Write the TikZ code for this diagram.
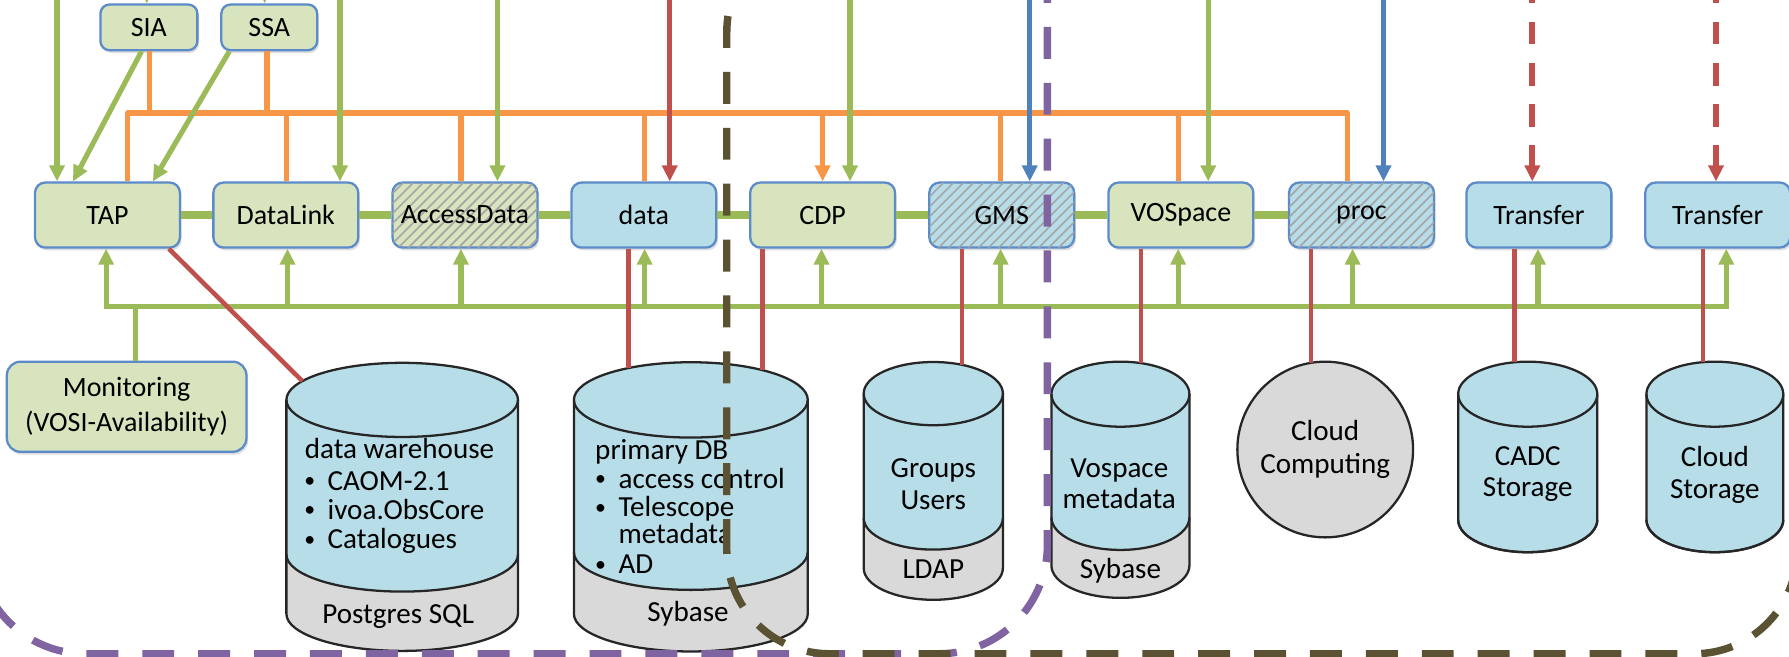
\documentclass[tikz,border=0pt]{standalone}
\usepackage{fontspec}
\setmainfont{Carlito}
\usetikzlibrary{arrows.meta,patterns.meta,shadows,calc}
\definecolor{gfill}{HTML}{D7E4BD}
\definecolor{bfill}{HTML}{B7DEE8}
\definecolor{glc}{HTML}{9BBB59}
\definecolor{olc}{HTML}{F79646}
\definecolor{rlc}{HTML}{C0504D}
\definecolor{blc}{HTML}{4F81BD}
\definecolor{boxedge}{HTML}{5B8BC9}
\definecolor{purp}{HTML}{8064A2}
\definecolor{oliv}{HTML}{5A5232}
\definecolor{dbgray}{HTML}{D9D9D9}
\definecolor{hatchc}{HTML}{A6A6A6}
\definecolor{dbedge}{HTML}{262626}
\newcommand\blt{\makebox[22pt][l]{\hspace{1.5pt}\raisebox{2.3pt}{\scalebox{0.75}{•}}}}
% cx, rx, top-centre y, ry, boundary-centre y, bottom-centre y, fill colour
\newcommand\dbcyl[7]{%
  \fill[dbgray] (#1-#2,#3) -- (#1-#2,#6) arc[start angle=180,end angle=360,x radius=#2pt,y radius=#4pt] -- (#1+#2,#3) -- cycle;
  \fill[#7] (#1-#2,#3) -- (#1-#2,#5) arc[start angle=180,end angle=360,x radius=#2pt,y radius=#4pt] -- (#1+#2,#3) arc[start angle=0,end angle=180,x radius=#2pt,y radius=#4pt] -- cycle;
  \draw[dbline] (#1,#3) ellipse[x radius=#2pt,y radius=#4pt];
  \draw[dbline] (#1-#2,#3) -- (#1-#2,#6) arc[start angle=180,end angle=360,x radius=#2pt,y radius=#4pt] -- (#1+#2,#3);
  \draw[dbline] (#1-#2,#5) arc[start angle=180,end angle=360,x radius=#2pt,y radius=#4pt];
}
\begin{document}
\begin{tikzpicture}[x=1pt,y=1pt,
  svc/.style={draw=boxedge, line width=2pt, rounded corners=9pt, minimum width=127pt, minimum height=57pt, inner sep=0pt, text=black,
    font=\fontsize{24.5}{29}\selectfont, drop shadow={opacity=0.25,shadow xshift=1.5pt,shadow yshift=-2.5pt}},
  gsvc/.style={svc, fill=gfill},
  bsvc/.style={svc, fill=bfill},
  small/.style={minimum width=85pt, minimum height=40pt, rounded corners=8pt},
  hatched/.style={postaction={pattern={Lines[angle=45,distance=6.2pt,line width=1.5pt]}, pattern color=hatchc}},
  dbline/.style={draw=dbedge, line width=2pt},
  dbtext/.style={font=\fontsize{25.5}{28}\selectfont, inner sep=0pt, text height=18pt, text depth=6pt},
  dbml/.style={font=\fontsize{25.5}{28}\selectfont, inner sep=0pt, align=center},
  tip/.style={-{Triangle[length=14pt,width=13pt]}},
  oline/.style={draw=olc, line width=4.5pt},
  oarrow/.style={oline, tip},
  gline/.style={draw=glc, line width=4.5pt},
  garrow/.style={gline, tip},
  gbus/.style={gline, line cap=rect},
  gchain/.style={draw=glc, line width=7.5pt},
  rline/.style={draw=rlc, line width=4pt},
  rarrow/.style={draw=rlc, line width=4.5pt, tip},
  rdarrow/.style={rarrow, line width=5pt, dash pattern=on 20pt off 16pt},
  barrow/.style={draw=blc, line width=4.5pt, tip},
  purpd/.style={draw=purp, line width=6.5pt, dash pattern=on 28pt off 21pt, rounded corners=95pt},
  olivd/.style={draw=oliv, line width=6.5pt, dash pattern=on 28pt off 21pt, rounded corners=90pt}
]
\clip (0,0) rectangle (1568,575);
\fill[white] (0,0) rectangle (1568,575);

\coordinate (TOP) at (0,592);
\coordinate (OBUS) at (0,476);
\coordinate (GBUS) at (0,306);

% ---------- service boxes ----------
\node[gsvc] (TAP) at (94.2,386.5) {TAP};
\node[gsvc] (DL) at (250.5,386.5) {DataLink};
\node[gsvc,hatched] (AD) at (407.5,386.5) {AccessData};
\node[bsvc] (DATA) at (564.3,386.5) {data};
\node[gsvc] (CDP) at (721,386.5) {CDP};
\node[bsvc,hatched] (GMS) at (878,386.5) {GMS};
\node[gsvc] (VOS) at (1035,386.5) {VOSpace};
\node[bsvc,hatched] (PROC) at (1193.3,386.5) {proc};
\node[bsvc] (TR1) at (1348.8,386.5) {Transfer};
\node[bsvc] (TR2) at (1505.5,386.5) {Transfer};
\node[gsvc,small] (SIA) at (130.5,551) {SIA};
\node[gsvc,small,minimum width=84pt] (SSA) at (236,551) {SSA};
\node[gsvc, minimum width=210pt, minimum height=79pt, rounded corners=12pt, align=center,
      font=\fontsize{24.5}{30}\selectfont] (MON) at (111,218.5) {Monitoring\\(VOSI-Availability)};

% ---------- databases ----------
\dbcyl{352.5}{101.5}{224.5}{32.5}{89}{37}{bfill}
\dbcyl{605.5}{102.5}{224.5}{33}{91}{37}{bfill}
\dbcyl{818}{61}{230}{27.7}{121}{77}{bfill}
\dbcyl{982}{60.5}{229.5}{28.5}{121.5}{79.5}{bfill}
\dbcyl{1339}{61}{229.5}{28.5}{119.5}{119.5}{bfill}
\dbcyl{1503}{60}{229.5}{28.5}{119.5}{119.5}{bfill}
\node[circle, draw=dbedge, line width=2pt, fill=dbgray, minimum size=154pt, inner sep=0pt, align=center,
      font=\fontsize{25.5}{29}\selectfont] (CLOUD) at (1161.5,181) {Cloud\\Computing};

\coordinate (DWa) at (265,241);
\coordinate (PDa) at (551,252.4);
\coordinate (PDb) at (668.5,250.5);
\coordinate (LDa) at (843,255.3);
\coordinate (VSa) at (1000,256.7);
\coordinate (CCa) at (1149,257);
\coordinate (CSa) at (1327.6,257.5);
\coordinate (CLa) at (1492.6,257.6);

% database texts
\node[dbtext,anchor=west] (DW0) at (267,179) {data warehouse};
\node[dbtext,anchor=west] (DW1) at (265,151) {\blt CAOM-2.1};
\node[dbtext,anchor=west] (DW2) at (265,126) {\blt ivoa.ObsCore};
\node[dbtext,anchor=west] (DW3) at (265,100) {\blt Catalogues};
\node[dbtext] (DW4) at (349,34.5) {Postgres SQL};
\node[dbtext,anchor=west] (PD0) at (521.5,178) {primary DB};
\node[dbtext,anchor=west] (PD1) at (520,153) {\blt access control};
\node[dbtext,anchor=west] (PD2) at (520,128) {\blt Telescope};
\node[dbtext,anchor=west] (PD3) at (542,105) {metadata};
\node[dbtext,anchor=west] (PD4) at (520,78) {\blt AD};
\node[dbtext] (PD5) at (603,36) {Sybase};
\node[dbml] (LD0) at (818,151) {Groups\\Users};
\node[dbtext] (LD1) at (818,74) {LDAP};
\node[dbml] (VS0) at (981,151) {Vospace\\metadata};
\node[dbtext] (VS1) at (982,74) {Sybase};
\node[dbml] (CS0) at (1339,159.5) {CADC\\Storage};
\node[dbml] (CL0) at (1503,159) {Cloud\\Storage};

% ---------- chain between services ----------
\draw[gchain] (TAP.east) -- (DL.west);
\draw[gchain] (DL.east) -- (AD.west);
\draw[gchain] (AD.east) -- (DATA.west);
\draw[gchain] (DATA.east) -- (CDP.west);
\draw[gchain] (CDP.east) -- (GMS.west);
\draw[gchain] (GMS.east) -- (VOS.west);
\draw[gchain] (VOS.east) -- (PROC.west);

% ---------- orange bus ----------
\draw[oline, line join=round] (112,0 |- TAP.north) |- (1181,0 |- OBUS) -- (1181,0 |- PROC.north);
\draw[oline] (131,0 |- SIA.south) -- (131,0 |- OBUS);
\draw[oline] (234,0 |- SSA.south) -- (234,0 |- OBUS);
\draw[oline] (251,0 |- OBUS) -- (251,0 |- DL.north);
\draw[oline] (404,0 |- OBUS) -- (404,0 |- AD.north);
\draw[oline] (565,0 |- OBUS) -- (565,0 |- DATA.north);
\draw[oarrow] (721,0 |- OBUS) -- (721,0 |- CDP.north);
\draw[oline] (877,0 |- OBUS) -- (877,0 |- GMS.north);
\draw[oline] (1033,0 |- OBUS) -- (1033,0 |- VOS.north);

% ---------- incoming from top ----------
\draw[garrow] (50,0 |- TOP) -- (50,0 |- TAP.north);
\draw[garrow] (128.6,0 |- TOP) -- (128.6,0 |- SIA.north);
\draw[garrow] (232,0 |- TOP) -- (232,0 |- SSA.north);
\draw[garrow] (298,0 |- TOP) -- (298,0 |- DL.north);
\draw[garrow] (436,0 |- TOP) -- (436,0 |- AD.north);
\draw[rarrow] (587,0 |- TOP) -- (587,0 |- DATA.north);
\draw[garrow] (745,0 |- TOP) -- (745,0 |- CDP.north);
\draw[barrow] (902.5,0 |- TOP) -- (902.5,0 |- GMS.north);
\draw[garrow] (1059,0 |- TOP) -- (1059,0 |- VOS.north);
\draw[barrow] (1212.6,0 |- TOP) -- (1212.6,0 |- PROC.north);
\draw[rdarrow] (1343,0 |- TOP) -- (1343,0 |- TR1.north);
\draw[rdarrow] (1504,0 |- TOP) -- (1504,0 |- TR2.north);
\draw[garrow] (124,0 |- SIA.south) -- (64,0 |- TAP.north);
\draw[garrow] (201,0 |- SSA.south) -- (134,0 |- TAP.north);

% ---------- green monitoring bus ----------
\draw[gbus] (93,0 |- GBUS) -- (1513,0 |- GBUS);
\draw[gline] (119,0 |- GBUS) -- (119,0 |- MON.north);
\draw[garrow] (93,0 |- GBUS) -- (93,0 |- TAP.south);
\draw[garrow] (252,0 |- GBUS) -- (252,0 |- DL.south);
\draw[garrow] (404,0 |- GBUS) -- (404,0 |- AD.south);
\draw[garrow] (565,0 |- GBUS) -- (565,0 |- DATA.south);
\draw[garrow] (720,0 |- GBUS) -- (720,0 |- CDP.south);
\draw[garrow] (877,0 |- GBUS) -- (877,0 |- GMS.south);
\draw[garrow] (1032.6,0 |- GBUS) -- (1032.6,0 |- VOS.south);
\draw[garrow] (1185.5,0 |- GBUS) -- (1185.5,0 |- PROC.south);
\draw[garrow] (1348,0 |- GBUS) -- (1348,0 |- TR1.south);
\draw[garrow] (1513,0 |- GBUS) -- (1513,0 |- TR2.south);

% ---------- red links to storage ----------
\draw[rline] (148,0 |- TAP.south) -- (DWa);
\draw[rline] (PDa |- DATA.south) -- (PDa);
\draw[rline] (PDb |- CDP.south) -- (PDb);
\draw[rline] (LDa |- GMS.south) -- (LDa);
\draw[rline] (VSa |- VOS.south) -- (VSa);
\draw[rline] (CCa |- PROC.south) -- (CCa);
\draw[rline] (CSa |- TR1.south) -- (CSa);
\draw[rline] (CLa |- TR2.south) -- (CLa);

% ---------- dashed domains ----------
\draw[purpd] (-20,2) rectangle (918,680);
\draw[olivd] (637,2) rectangle (1575,637);
\end{tikzpicture}
\end{document}
